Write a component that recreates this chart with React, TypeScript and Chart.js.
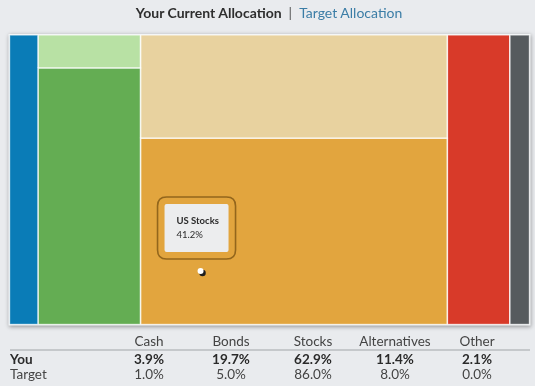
import React, { useEffect, useRef } from "react";
import { Chart, registerables } from "chart.js";

Chart.register(...registerables);

// ---- data ----
const categories = ["Cash", "Bonds", "Stocks", "Alternatives", "Other"];
const youPct = [3.9, 19.7, 62.9, 11.4, 2.1];
const targetPct = [1.0, 5.0, 86.0, 8.0, 0.0];
// displayed column width share (% of chart width) as drawn in the reference
const columnShare = [5.5, 19.7, 59.0, 12.0, 3.8];
// sub-segments of each column, bottom to top, as % of the column height
const subNames = [["Cash"], ["US Bonds", "Intl Bonds"], ["US Stocks", "Intl Stocks"], ["Alternatives"], ["Other"]];
const subShare = [[100], [88.6, 11.4], [64.3, 35.7], [100], [100]];
const subColors = [
  ["#0a7cb7"],
  ["#64ad53", "#b8e1a4"],
  ["#e2a53e", "#e8d29f"],
  ["#d83a29"],
  ["#565b5e"],
];
const tooltipLabel = "US Stocks";
const tooltipValue = "41.2%";

const BG = "#e9ebee";

function buildDatasets() {
  const ds: any[] = [];
  let x0 = 0;
  columnShare.forEach((w, ci) => {
    const x1 = x0 + w;
    let y0 = 0;
    subShare[ci].forEach((h, si) => {
      const y1 = y0 + h;
      ds.push({
        label: subNames[ci][si],
        data: [
          { x: x0, y: y1 },
          { x: x1, y: y1 },
        ],
        showLine: true,
        fill: { value: y0 },
        backgroundColor: subColors[ci][si],
        borderWidth: 0,
        pointRadius: 0,
        order: 2,
      });
      ds.push({
        label: subNames[ci][si] + " outline",
        data: [
          { x: x0, y: y0 },
          { x: x0, y: y1 },
          { x: x1, y: y1 },
          { x: x1, y: y0 },
          { x: x0, y: y0 },
        ],
        showLine: true,
        fill: false,
        borderColor: "rgba(255,255,255,0.55)",
        borderWidth: 1.5,
        pointRadius: 0,
        order: 1,
      });
      y0 = y1;
    });
    x0 = x1;
  });
  return ds;
}

const framePlugin = {
  id: "frame",
  beforeDatasetsDraw(chart: any) {
    const { ctx, chartArea: a } = chart;
    ctx.save();
    ctx.shadowColor = "rgba(0,0,0,0.35)";
    ctx.shadowBlur = 4;
    ctx.shadowOffsetY = 1;
    ctx.fillStyle = "#f4f6f7";
    ctx.fillRect(a.left - 1, a.top - 1, a.right - a.left + 2, a.bottom - a.top + 2);
    ctx.restore();
  },
};

function roundRect(ctx: any, x: number, y: number, w: number, h: number, r: number) {
  ctx.beginPath();
  ctx.moveTo(x + r, y);
  ctx.lineTo(x + w - r, y);
  ctx.quadraticCurveTo(x + w, y, x + w, y + r);
  ctx.lineTo(x + w, y + h - r);
  ctx.quadraticCurveTo(x + w, y + h, x + w - r, y + h);
  ctx.lineTo(x + r, y + h);
  ctx.quadraticCurveTo(x, y + h, x, y + h - r);
  ctx.lineTo(x, y + r);
  ctx.quadraticCurveTo(x, y, x + r, y);
  ctx.closePath();
}

const tipPlugin = {
  id: "tip",
  afterDatasetsDraw(chart: any) {
    const { ctx, scales } = chart;
    const stocksLeft = scales.x.getPixelForValue(columnShare[0] + columnShare[1]);
    const bx = stocksLeft + 17;
    const by = 197;
    ctx.save();
    // outer ring
    roundRect(ctx, bx, by, 78, 62, 9);
    ctx.lineWidth = 1.6;
    ctx.strokeStyle = "#93661c";
    ctx.stroke();
    // inner box
    ctx.fillStyle = "#ecedee";
    roundRect(ctx, bx + 7, by + 7, 64, 48, 2);
    ctx.fill();
    ctx.fillStyle = "#2b2b2b";
    ctx.font = "bold 9.5px Lato, 'Open Sans', sans-serif";
    ctx.textBaseline = "middle";
    ctx.fillText(tooltipLabel, bx + 19, by + 24);
    ctx.font = "9.5px Lato, 'Open Sans', sans-serif";
    ctx.fillText(tooltipValue, bx + 19, by + 38);
    // cursor dot
    ctx.fillStyle = "#1e1e1e";
    ctx.beginPath();
    ctx.arc(bx + 45, by + 76, 3.2, 0, Math.PI * 2);
    ctx.fill();
    ctx.fillStyle = "#ffffff";
    ctx.beginPath();
    ctx.arc(bx + 43, by + 74, 3, 0, Math.PI * 2);
    ctx.fill();
    ctx.restore();
  },
};

const colCenters = [149, 231, 313, 395, 477];

export default function App() {
  const ref = useRef<HTMLCanvasElement | null>(null);
  useEffect(() => {
    document.body.style.margin = "0";
    document.body.style.background = BG;
    const chart = new Chart(ref.current as HTMLCanvasElement, {
      type: "scatter",
      data: { datasets: buildDatasets() },
      options: {
        animation: false,
        responsive: false,
        maintainAspectRatio: false,
        events: [],
        layout: { padding: { left: 9.5, right: 5.5, top: 35, bottom: 61.5 } },
        scales: {
          x: { type: "linear", min: 0, max: 100, display: false },
          y: { type: "linear", min: 0, max: 100, display: false },
        },
        plugins: { legend: { display: false }, tooltip: { enabled: false }, title: { display: false } },
      },
      plugins: [framePlugin, tipPlugin],
    });
    return () => chart.destroy();
  }, []);

  const font = "Lato, 'Open Sans', sans-serif";
  const cell = (x: number, y: number, text: string, bold = false, color = "#333") => (
    <div
      key={text + x + y}
      style={{
        position: "absolute",
        left: x - 50,
        width: 100,
        top: y,
        textAlign: "center",
        fontSize: 13.5,
        lineHeight: "16px",
        fontWeight: bold ? 700 : 400,
        color,
      }}
    >
      {text}
    </div>
  );

  return (
    <div style={{ position: "relative", width: 535, height: 386, background: BG, fontFamily: font, overflow: "hidden" }}>
      <canvas ref={ref} width={535} height={386} style={{ position: "absolute", left: 0, top: 0 }} />
      <div
        style={{
          position: "absolute",
          left: 0,
          width: 538,
          top: 4,
          textAlign: "center",
          fontSize: 14,
          lineHeight: "18px",
        }}
      >
        <span style={{ fontWeight: 700, color: "#2e2e2e" }}>Your Current Allocation</span>
        <span style={{ color: "#555", margin: "0 7px" }}>|</span>
        <span style={{ color: "#3b7da6" }}>Target Allocation</span>
      </div>
      {categories.map((c, i) => cell(colCenters[i], 333, c, false, "#444"))}
      <div style={{ position: "absolute", left: 10, width: 520, top: 348.5, height: 2, background: "#c5c8cb" }} />
      <div style={{ position: "absolute", left: 10, top: 351, fontSize: 13.5, lineHeight: "16px", fontWeight: 700, color: "#2a2a2a" }}>You</div>
      <div style={{ position: "absolute", left: 10, top: 366, fontSize: 13.5, lineHeight: "16px", color: "#444" }}>Target</div>
      {youPct.map((v, i) => cell(colCenters[i], 351, v.toFixed(1) + "%", true, "#2a2a2a"))}
      {targetPct.map((v, i) => cell(colCenters[i], 366, v.toFixed(1) + "%", false, "#444"))}
    </div>
  );
}
